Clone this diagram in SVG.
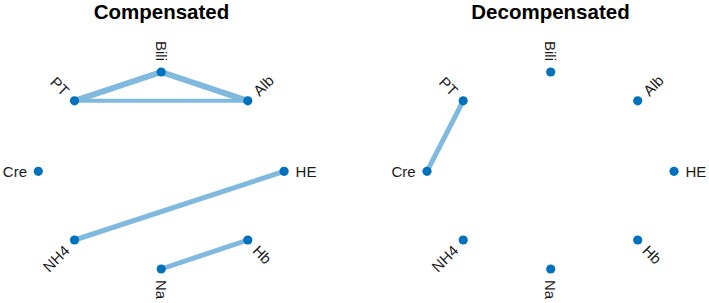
<svg xmlns="http://www.w3.org/2000/svg" width="709" height="303" viewBox="0 0 709 303">
<style>
.title{font-family:"Liberation Sans",Arial,sans-serif;font-weight:bold;font-size:20.5px;fill:#000;text-anchor:middle}
.lbl{font-family:"Liberation Sans",Arial,sans-serif;font-size:15px;fill:#1a1a1a;dominant-baseline:central}
.s{text-anchor:start}
.e{text-anchor:end}
.edge{stroke:#80b9de;stroke-linecap:butt;fill:none}
.node circle{fill:#0072bd}
</style>
<rect width="709" height="303" fill="#fff"/>
<text class="title" x="161.5" y="18.8">Compensated</text>
<text class="title" x="550.5" y="18.8">Decompensated</text>
<g id="connectors">
<line class="edge" x1="74.5" y1="100.8" x2="161.2" y2="72" stroke-width="6"/>
<line class="edge" x1="161.2" y1="72" x2="247.8" y2="100.8" stroke-width="6"/>
<line class="edge" x1="74.5" y1="100.8" x2="247.8" y2="100.8" stroke-width="4"/>
<line class="edge" x1="74.5" y1="240" x2="284.1" y2="171.3" stroke-width="5"/>
<line class="edge" x1="161.2" y1="269" x2="247.8" y2="240" stroke-width="5"/>
<line class="edge" x1="463.2" y1="100.8" x2="427" y2="171.3" stroke-width="5"/>
</g>
<g id="L-Bili" class="node"><circle cx="161.2" cy="72" r="4.6"/><text class="lbl e" transform="translate(161.2,61) rotate(90)">Bili</text></g>
<g id="L-PT" class="node"><circle cx="74.5" cy="100.8" r="4.6"/><text class="lbl e" transform="translate(66.7,93) rotate(45)">PT</text></g>
<g id="L-Alb" class="node"><circle cx="247.8" cy="100.8" r="4.6"/><text class="lbl s" transform="translate(255.6,93) rotate(-45)">Alb</text></g>
<g id="L-Cre" class="node"><circle cx="38.3" cy="171.3" r="4.6"/><text class="lbl e" x="27" y="171.3">Cre</text></g>
<g id="L-HE" class="node"><circle cx="284.1" cy="171.3" r="4.6"/><text class="lbl s" x="295.6" y="171.3">HE</text></g>
<g id="L-NH4" class="node"><circle cx="74.5" cy="240" r="4.6"/><text class="lbl e" transform="translate(66.7,247.8) rotate(-45)">NH4</text></g>
<g id="L-Na" class="node"><circle cx="161.2" cy="269" r="4.6"/><text class="lbl s" transform="translate(161.2,280) rotate(90)">Na</text></g>
<g id="L-Hb" class="node"><circle cx="247.8" cy="240" r="4.6"/><text class="lbl s" transform="translate(255.6,247.8) rotate(45)">Hb</text></g>
<g id="R-Bili" class="node"><circle cx="550.7" cy="72" r="4.6"/><text class="lbl e" transform="translate(550.7,61) rotate(90)">Bili</text></g>
<g id="R-PT" class="node"><circle cx="463.2" cy="100.8" r="4.6"/><text class="lbl e" transform="translate(455.4,93) rotate(45)">PT</text></g>
<g id="R-Alb" class="node"><circle cx="637.7" cy="100.8" r="4.6"/><text class="lbl s" transform="translate(645.5,93) rotate(-45)">Alb</text></g>
<g id="R-Cre" class="node"><circle cx="427" cy="171.3" r="4.6"/><text class="lbl e" x="415.7" y="171.3">Cre</text></g>
<g id="R-HE" class="node"><circle cx="674" cy="171.3" r="4.6"/><text class="lbl s" x="685.5" y="171.3">HE</text></g>
<g id="R-NH4" class="node"><circle cx="463.2" cy="240" r="4.6"/><text class="lbl e" transform="translate(455.4,247.8) rotate(-45)">NH4</text></g>
<g id="R-Na" class="node"><circle cx="550.7" cy="269" r="4.6"/><text class="lbl s" transform="translate(550.7,280) rotate(90)">Na</text></g>
<g id="R-Hb" class="node"><circle cx="637.7" cy="240" r="4.6"/><text class="lbl s" transform="translate(645.5,247.8) rotate(45)">Hb</text></g>
</svg>
